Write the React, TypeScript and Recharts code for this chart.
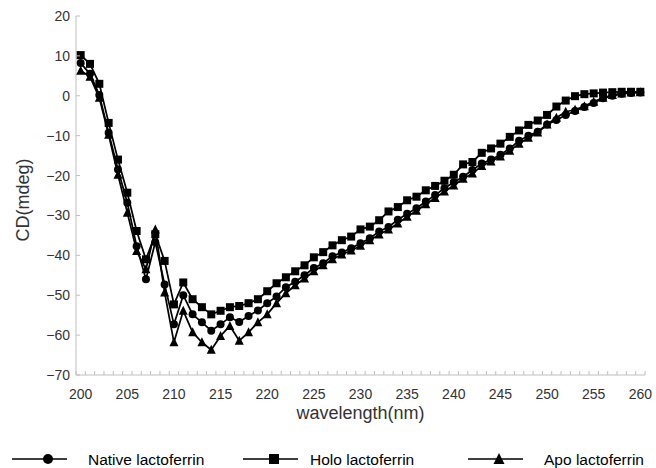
import { LineChart, Line, XAxis, YAxis, Legend } from "recharts";

const wavelengths = [
  200, 201, 202, 203, 204, 205, 206, 207, 208, 209, 210, 211, 212, 213, 214, 215,
  216, 217, 218, 219, 220, 221, 222, 223, 224, 225, 226, 227, 228, 229, 230, 231,
  232, 233, 234, 235, 236, 237, 238, 239, 240, 241, 242, 243, 244, 245, 246, 247,
  248, 249, 250, 251, 252, 253, 254, 255, 256, 257, 258, 259, 260,
];

const native = [
  8.2, 5.5, 0.2, -9.3, -18.5, -26.8, -37.7, -46, -36.7, -47.3, -57.3, -50, -54.8, -56.8, -58.9, -57.3,
  -55.5, -56.7, -55.2, -53.8, -52, -50.3, -48, -46.6, -45, -43.2, -42, -40.2, -39.3, -38.2, -37, -35.7,
  -34, -32.9, -31.1, -29.6, -28.2, -26.5, -24.9, -23.2, -21.7, -20.3, -18.6, -17, -16, -14.8, -13.2, -11.3,
  -10, -9, -7.2, -6.1, -4.8, -3.8, -2.8, -1.8, -0.6, 0, 0.5, 0.7, 0.8,
];

const holo = [
  10.2, 8, 3, -6.8, -16, -24.3, -33.9, -41, -34.7, -41.4, -52.3, -46.8, -51, -53, -54.8, -53.9,
  -53, -52.7, -52, -51, -49, -47, -45.5, -44, -42.5, -40.5, -39.2, -37.5, -36.2, -35.3, -33.5, -32.8,
  -31.2, -29, -27.9, -26.2, -25.3, -23.7, -22.6, -21.3, -19.8, -17.2, -16.6, -14.3, -13.2, -12, -10.3, -8.7,
  -7.3, -6.2, -4.8, -2.7, -1.2, -0.1, 0.4, 0.6, 0.8, 0.9, 1, 1, 1,
];

const apo = [
  6.3, 4.8, -0.5, -9.8, -19.8, -29.3, -38.9, -43.5, -33.5, -49.3, -61.8, -53.9, -59.3, -61.8, -63.7, -60.2,
  -57.7, -61.4, -59.3, -56.8, -54.8, -52, -49.5, -47.5, -45.8, -44, -42.5, -41, -39.8, -38.8, -37.6, -36.2,
  -34.8, -33.5, -32, -30.3, -28.8, -27.2, -25.6, -24, -22.5, -20.8, -19.5, -17.6, -16.5, -15.2, -13.8, -12,
  -10.5, -9.2, -7.2, -5.5, -4, -3.5, -2.6, -1.5, -0.5, 0.2, 0.6, 0.8, 0.9,
];

const xTickLabels = [200, 205, 210, 215, 220, 225, 230, 235, 240, 245, 250, 255, 260];
const yTicks = [-70, -60, -50, -40, -30, -20, -10, 0, 10, 20];

const FONT = '"Liberation Sans", Arial, sans-serif';
const INK = "#333333";
const AXIS = "#bfbfbf";

type Shape = "circle" | "square" | "triangle";

const seriesList: { key: string; name: string; shape: Shape }[] = [
  { key: "native", name: "Native lactoferrin", shape: "circle" },
  { key: "holo", name: "Holo lactoferrin", shape: "square" },
  { key: "apo", name: "Apo lactoferrin", shape: "triangle" },
];

const data = wavelengths.map((w, i) => ({
  wavelength: w,
  native: native[i],
  holo: holo[i],
  apo: apo[i],
}));

// category boundaries (minor ticks) sit half a step either side of each wavelength
const minorTicks = [
  ...wavelengths.map((w) => w - 0.5),
  wavelengths[wavelengths.length - 1] + 0.5,
];
const xTicks = [...minorTicks, ...xTickLabels].sort((a, b) => a - b);

function Marker({ cx, cy, shape, size }: { cx: number; cy: number; shape: Shape; size: number }) {
  const h = size / 2;
  if (shape === "circle") return <circle cx={cx} cy={cy} r={h} fill="#000" />;
  if (shape === "square")
    return <rect x={cx - h} y={cy - h} width={size} height={size} fill="#000" />;
  return (
    <polygon
      points={`${cx},${cy - h - 1} ${cx + h + 0.5},${cy + h} ${cx - h - 0.5},${cy + h}`}
      fill="#000"
    />
  );
}

function XTick(props: any) {
  const { x, y, payload } = props;
  const v = payload.value;
  if (xTickLabels.includes(v)) {
    return (
      <text x={x} y={y + 24} textAnchor="middle" fill={INK} fontSize={14} fontFamily={FONT}>
        {v}
      </text>
    );
  }
  return <line x1={x} x2={x} y1={y} y2={y - 4} stroke={AXIS} />;
}

function YTick(props: any) {
  const { x, y, payload } = props;
  const v = payload.value as number;
  const label = v < 0 ? `\u2212${Math.abs(v)}` : `${v}`;
  return (
    <g>
      <line x1={x} x2={x + 4} y1={y} y2={y} stroke={AXIS} />
      <text x={x - 6} y={y + 5} textAnchor="end" fill={INK} fontSize={14} fontFamily={FONT}>
        {label}
      </text>
    </g>
  );
}

const legendPos = [
  { lineX: 12, markerX: 48, textX: 88 },
  { lineX: 243, markerX: 274, textX: 310 },
  { lineX: 468, markerX: 499, textX: 544 },
];

function LegendRow() {
  return (
    <div style={{ position: "relative", width: 656, height: 20 }}>
      <svg width={656} height={20} style={{ position: "absolute", left: 0, top: 0, overflow: "visible" }}>
        {seriesList.map((s, i) => {
          const p = legendPos[i];
          return (
            <g key={s.key}>
              <line x1={p.lineX} x2={p.lineX + 55} y1={11} y2={11} stroke="#000" strokeWidth={1.5} />
              <Marker cx={p.markerX} cy={11} shape={s.shape} size={10} />
              <text x={p.textX} y={16.5} fontSize={15.5} fontFamily={FONT} fill="#000">
                {s.name}
              </text>
            </g>
          );
        })}
      </svg>
    </div>
  );
}

export default function App() {
  return (
    <div style={{ position: "absolute", left: 0, top: 0, width: 656, height: 468, background: "#fff" }}>
      <LineChart width={656} height={468} data={data} margin={{ top: 16, right: 11, bottom: 0, left: 0 }}>
        <XAxis
          dataKey="wavelength"
          type="number"
          domain={[199.5, 260.5]}
          ticks={xTicks}
          interval={0}
          height={73}
          tickSize={0}
          tickMargin={0}
          tickLine={false}
          axisLine={{ stroke: AXIS }}
          tick={<XTick />}
          label={() => (
            <text key="xl" x={360.5} y={419} textAnchor="middle" fontSize={18} fontFamily={FONT} fill={INK}>
              wavelength(nm)
            </text>
          )}
        />
        <YAxis
          type="number"
          domain={[-70, 20]}
          ticks={yTicks}
          interval={0}
          width={76}
          tickSize={0}
          tickMargin={0}
          tickLine={false}
          axisLine={{ stroke: AXIS }}
          tick={<YTick />}
          label={() => (
            <text
              key="yl"
              transform="translate(29,200) rotate(-90)"
              textAnchor="middle"
              fontSize={18}
              fontFamily={FONT}
              fill={INK}
            >
              CD(mdeg)
            </text>
          )}
        />
        <Legend verticalAlign="bottom" content={() => <LegendRow />} wrapperStyle={{ left: 0, width: 656 }} />
        {seriesList.map((s) => (
          <Line
            key={s.key}
            dataKey={s.key}
            name={s.name}
            type="linear"
            stroke="#000"
            strokeWidth={1.75}
            isAnimationActive={false}
            dot={(p: any) => <Marker key={`${s.key}-${p.index}`} cx={p.cx} cy={p.cy} shape={s.shape} size={8} />}
            activeDot={false}
          />
        ))}
      </LineChart>
    </div>
  );
}
